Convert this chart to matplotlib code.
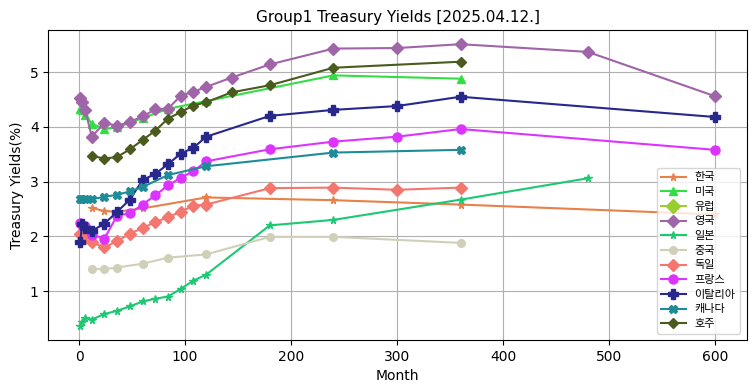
import matplotlib
matplotlib.use("Agg")
import matplotlib.pyplot as plt
from matplotlib.font_manager import FontProperties

# yields by maturity (months)
kr_m = [12, 24, 36, 60, 120, 240, 360, 600]
kr_y = [2.52, 2.46, 2.45, 2.51, 2.71, 2.66, 2.58, 2.40]

us_m = [1, 3, 6, 12, 24, 36, 60, 84, 120, 240, 360]
us_y = [4.33, 4.30, 4.21, 4.06, 3.96, 3.99, 4.16, 4.33, 4.47, 4.94, 4.88]

eu_m = []
eu_y = []

uk_m = [1, 3, 6, 12, 24, 36, 48, 60, 72, 84, 96, 108, 120, 144, 180, 240, 300, 360, 480, 600]
uk_y = [4.52, 4.45, 4.30, 3.82, 4.07, 4.02, 4.09, 4.19, 4.32, 4.33, 4.57, 4.64, 4.73, 4.90, 5.14, 5.43, 5.44, 5.51, 5.37, 4.56]

jp_m = [1, 3, 6, 12, 24, 36, 48, 60, 72, 84, 96, 108, 120, 180, 240, 360, 480]
jp_y = [0.36, 0.44, 0.51, 0.48, 0.58, 0.64, 0.72, 0.81, 0.86, 0.90, 1.04, 1.19, 1.30, 2.20, 2.30, 2.67, 3.06]

cn_m = [12, 24, 36, 60, 84, 120, 180, 240, 360]
cn_y = [1.41, 1.40, 1.43, 1.50, 1.61, 1.67, 1.99, 1.99, 1.88]

de_m = [1, 3, 6, 12, 24, 36, 48, 60, 72, 84, 96, 108, 120, 180, 240, 300, 360]
de_y = [2.05, 2.02, 1.97, 1.89, 1.80, 1.91, 2.05, 2.15, 2.26, 2.35, 2.45, 2.56, 2.58, 2.88, 2.89, 2.85, 2.89]

fr_m = [1, 3, 6, 12, 24, 36, 48, 60, 72, 84, 96, 108, 120, 180, 240, 300, 360, 600]
fr_y = [2.24, 2.21, 2.18, 2.03, 1.96, 2.38, 2.42, 2.58, 2.75, 2.93, 3.07, 3.19, 3.37, 3.59, 3.73, 3.82, 3.96, 3.58]

it_m = [1, 3, 6, 12, 24, 36, 48, 60, 72, 84, 96, 108, 120, 180, 240, 300, 360, 600]
it_y = [1.89, 2.22, 2.16, 2.10, 2.23, 2.45, 2.67, 3.03, 3.14, 3.32, 3.51, 3.62, 3.82, 4.20, 4.31, 4.38, 4.55, 4.18]

ca_m = [1, 3, 6, 12, 24, 36, 48, 60, 84, 120, 240, 360]
ca_y = [2.69, 2.69, 2.68, 2.68, 2.72, 2.76, 2.82, 2.90, 3.12, 3.28, 3.53, 3.58]

au_m = [12, 24, 36, 48, 60, 72, 84, 96, 108, 120, 144, 180, 240, 360]
au_y = [3.47, 3.42, 3.45, 3.59, 3.76, 3.93, 4.15, 4.27, 4.39, 4.45, 4.63, 4.76, 5.08, 5.19]

fig, ax = plt.subplots(figsize=(7.55, 3.91), dpi=100)
fig.subplots_adjust(left=0.064, right=0.989, bottom=0.130, top=0.923)

ax.plot(kr_m, kr_y, marker='*', color='#E8804A', ms=5.5, label='한국')
ax.plot(us_m, us_y, marker='^', color='#33DD44', ms=6, label='미국')
ax.plot(eu_m, eu_y, marker='D', color='#9ACD32', ms=7, label='유럽')
ax.plot(uk_m, uk_y, marker='D', color='#A064A8', ms=6.5, label='영국')
ax.plot(jp_m, jp_y, marker='*', color='#1DC873', ms=5.5, label='일본')
ax.plot(cn_m, cn_y, marker='o', color='#D0D0B8', ms=5.5, label='중국')
ax.plot(de_m, de_y, marker='D', color='#F4766E', ms=6.5, label='독일')
ax.plot(fr_m, fr_y, marker='o', color='#DD33FF', ms=6.5, label='프랑스')
ax.plot(it_m, it_y, marker='P', color='#28288C', ms=6.5, label='이탈리아')
ax.plot(ca_m, ca_y, marker='X', color='#1E8C96', ms=5.5, label='캐나다')
ax.plot(au_m, au_y, marker='D', color='#4B5A1E', ms=5.5, label='호주')

ax.set_title('Group1 Treasury Yields [2025.04.12.]', fontsize=11)
ax.set_xlabel('Month')
ax.set_ylabel('Treasury Yields(%)')
ax.grid(True)
ax.legend(loc='lower right', prop=FontProperties(family='Noto Sans CJK KR', size=8),
          labelspacing=0.42, handlelength=2.2, borderaxespad=0.6)

fig.savefig('out.png')
